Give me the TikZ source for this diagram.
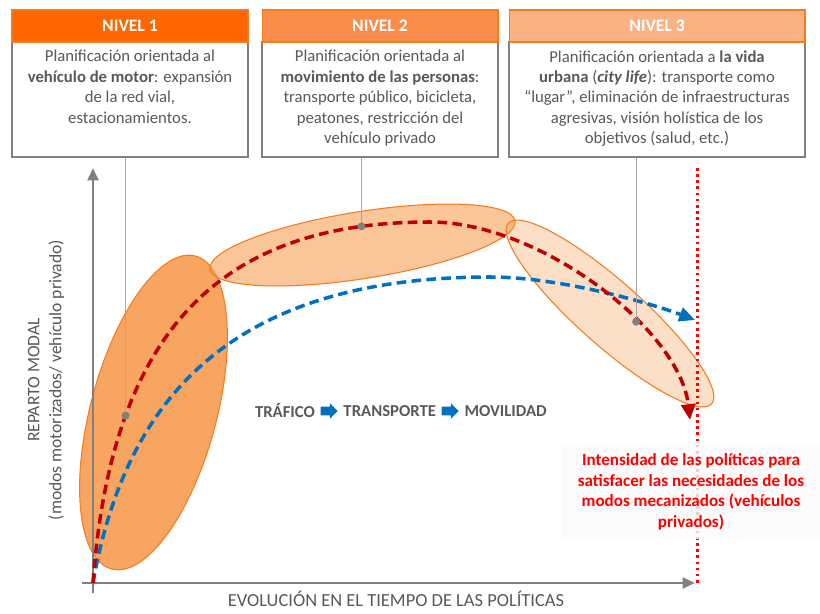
\documentclass[tikz,border=0pt]{standalone}
\usepackage{fontspec}
\setmainfont{Carlito}
\usetikzlibrary{positioning,shapes.geometric,shapes.arrows,arrows.meta}

\definecolor{nivelA}{HTML}{FF6600}
\definecolor{nivelB}{HTML}{F98C48}
\definecolor{nivelC}{HTML}{FAB183}
\definecolor{bordeNaranja}{HTML}{F47B20}
\definecolor{elipse}{HTML}{F79646}
\definecolor{textoGris}{HTML}{595959}
\definecolor{ejeGris}{HTML}{808080}
\definecolor{rojoOsc}{HTML}{C00000}
\definecolor{azul}{HTML}{0070C0}
\definecolor{rojo}{HTML}{FF0000}

\begin{document}
\begin{tikzpicture}[
    x=0.02cm, y=-0.02cm,
    font=\fontsize{9.5}{11.6}\selectfont,
    node distance=0.1cm,
    header/.style={rectangle, draw=bordeNaranja, line width=0.6pt, minimum height=0.64cm, inner sep=0, text=white, font=\fontsize{10}{11}\selectfont\bfseries},
    body/.style={rectangle, draw=ejeGris, line width=0.8pt, minimum height=2.3cm, inner sep=0},
    bodytext/.style={anchor=north, align=center, inner sep=0, text=textoGris},
    zona/.style={ellipse, draw=bordeNaranja, line width=0.6pt, fill=elipse, inner sep=0},
    curva/.style={line width=2pt, dash pattern=on 5.5pt off 3pt},
    eje/.style={draw=ejeGris, line width=1.7pt, -{Triangle[length=7pt,width=6pt]}},
    puntero/.style={draw=gray!70, line width=0.7pt},
    punto/.style={circle, fill=ejeGris, minimum size=0.16cm, inner sep=0},
    flecha/.style={single arrow, fill=azul, inner sep=0.08cm, minimum height=0.34cm, single arrow head extend=0.07cm},
    etiqueta/.style={text=textoGris, font=\fontsize{9.5}{11}\selectfont\bfseries, inner sep=0}
]
\fill[white] (0,0) rectangle (820,614);

% Levels: boxes at the top
\node[body, minimum width=4.72cm] (cuerpo1) at (130,99.5) {};
\node[body, minimum width=4.72cm] (cuerpo2) at (380,99.5) {};
\node[body, minimum width=5.92cm] (cuerpo3) at (657,99.5) {};
\node[header, fill=nivelA, minimum width=4.72cm] (nivel1) at (130,26) {NIVEL 1};
\node[header, fill=nivelB, minimum width=4.72cm] (nivel2) at (380,26) {NIVEL 2};
\node[header, fill=nivelC, minimum width=5.92cm] (nivel3) at (657,26) {NIVEL 3};

\node[bodytext] (texto1) at (130,50) {Planificación orientada al\\\textbf{vehículo de motor}: expansión\\de la red vial,\\estacionamientos.};
\node[bodytext] (texto2) at (380,50) {Planificación orientada al\\\textbf{movimiento de las personas}:\\transporte público, bicicleta,\\peatones, restricción del\\vehículo privado};
\node[bodytext] (texto3) at (657,50) {Planificación orientada a \textbf{la vida}\\\textbf{urbana} (\textbf{\textit{city life}}): transporte como\\“lugar”, eliminación de infraestructuras\\agresivas, visión holística de los\\objetivos (salud, etc.)};

% Zones of each level
\node[zona, fill opacity=0.85, minimum width=6.48cm, minimum height=2.52cm, rotate=75] (zona1) at (153.5,412.5) {};
\node[zona, fill opacity=0.55, minimum width=6.18cm, minimum height=1.34cm, rotate=9] (zona2) at (362.5,245) {};
\node[zona, fill opacity=0.3, minimum width=5.44cm, minimum height=1.28cm, rotate=-41.6] (zona3) at (610,313.5) {};

% Axes
\coordinate (origen) at (93,583);
\coordinate (ybase) at (93,593);
\coordinate (ytop) at (93,168);
\coordinate (xbase) at (82,583);
\coordinate (xtop) at (695,583);
\draw[eje] (ybase) -- (ytop);
\draw[eje] (xbase) -- (xtop);

\node[rotate=90, align=center, text=textoGris, font=\fontsize{10}{12.5}\selectfont] (ylabel) at (46,380) {REPARTO MODAL\\(modos motorizados/ vehículo privado)};
\node[text=textoGris, font=\fontsize{10.5}{12}\selectfont] (xlabel) at (396,599) {EVOLUCIÓN EN EL TIEMPO DE LAS POLÍTICAS};

% Curves
\coordinate (finAzul) at (695,320);
\coordinate (finRojo) at (690,420);
\draw[curva, draw=azul, -{Triangle[length=9pt,width=8pt]}] (origen)
    .. controls (125,400) and (230,277) .. (490,277)
    .. controls (560,277) and (650,303) .. (finAzul);
\draw[curva, draw=rojoOsc, -{Triangle[length=9pt,width=8pt]}] (origen)
    .. controls (112,320) and (230,222) .. (430,222) coordinate[pos=0.25] (p1) coordinate[pos=0.88] (p2)
    .. controls (540,222) and (680,330) .. (finRojo) coordinate[pos=0.64] (p3);

% Pointers from boxes
\draw[puntero] (p1 |- cuerpo1.south) -- (p1);
\draw[puntero] (p2 |- cuerpo2.south) -- (p2);
\draw[puntero] (p3 |- cuerpo3.south) -- (p3);
\node[punto] (punto1) at (p1) {};
\node[punto] (punto2) at (p2) {};
\node[punto] (punto3) at (p3) {};

% Limit line and note
\coordinate (limSup) at (697,168);
\coordinate (limInf) at (697,583);
\draw[rojo, line width=1.7pt, dash pattern=on 1.5pt off 2pt] (limSup) -- (limInf);
\node[fill=gray!3, fill opacity=0.8, text opacity=1, text=rojo, align=center, minimum width=5.16cm, minimum height=1.9cm, font=\fontsize{9.7}{11.7}\selectfont\bfseries] (intensidad) at (691,492) {Intensidad de las políticas para\\satisfacer las necesidades de los\\modos mecanizados (vehículos\\privados)};

% Traffic -> transport -> mobility
\node[etiqueta] (trafico) at (285,411) {TRÁFICO};
\node[flecha, right=of trafico] (flecha1) {};
\node[etiqueta, right=of flecha1] (transporte) {TRANSPORTE};
\node[flecha, right=of transporte] (flecha2) {};
\node[etiqueta, right=of flecha2] (movilidad) {MOVILIDAD};

\end{tikzpicture}
\end{document}
